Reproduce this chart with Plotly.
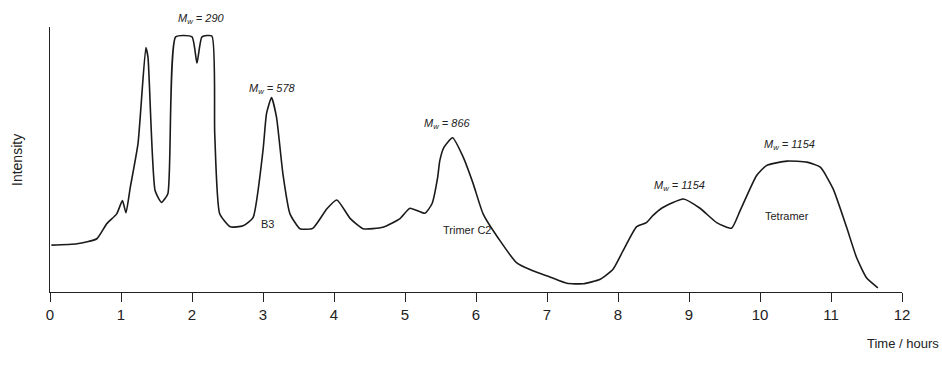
import plotly.graph_objects as go

# Chromatogram trace (time in hours, intensity in arbitrary units 0-100)
time_h = [0.02, 0.38, 0.66, 0.80, 0.94, 1.02, 1.07, 1.13, 1.24, 1.35, 1.38, 1.48, 1.57, 1.66,
          1.77, 2.00, 2.07, 2.14, 2.28, 2.32, 2.39, 2.54, 2.72, 2.86, 3.00, 3.05, 3.12, 3.19,
          3.28, 3.38, 3.52, 3.70, 3.90, 4.04, 4.23, 4.41, 4.69, 4.93, 5.07, 5.28, 5.38, 5.46,
          5.49, 5.55, 5.67, 5.82, 5.96, 6.10, 6.34, 6.57, 6.80, 7.04, 7.28, 7.51, 7.75, 7.93,
          8.07, 8.26, 8.40, 8.49, 8.62, 8.92, 9.15, 9.39, 9.60, 9.72, 9.95, 10.09, 10.38,
          10.66, 10.85, 11.03, 11.22, 11.36, 11.50, 11.66]
intensity = [17.7, 18.2, 20.1, 25.8, 29.5, 34.5, 29.9, 39.4, 56.1, 92.2, 88.6, 38.3, 33.8, 37.1,
             96.3, 96.3, 86.4, 96.3, 96.6, 59.8, 29.5, 24.6, 25.0, 28.1, 53.4, 67.4, 73.4, 66.0,
             44.7, 29.5, 23.9, 24.0, 31.4, 34.7, 27.7, 23.9, 24.4, 27.7, 31.6, 29.7, 33.3, 43.3,
             49.6, 54.7, 58.2, 50.9, 40.9, 29.5, 19.3, 11.1, 8.0, 5.7, 3.3, 3.1, 4.8, 8.6,
             15.5, 24.6, 26.2, 28.8, 31.7, 35.1, 31.7, 26.2, 24.1, 30.7, 43.9, 47.7, 49.4,
             49.0, 47.1, 38.9, 24.4, 13.0, 5.4, 1.6]

# Peak labels (y in axis-domain fraction so labels above the axis top stay visible)
mw_x = [2.14, 3.13, 5.6, 8.86, 10.42]
mw_y = [1.03, 0.765, 0.635, 0.40, 0.555]
mw_text = ["290", "578", "866", "1154", "1154"]

name_x = [3.07, 5.87, 10.38]
name_y = [25.5, 23.5, 28.5]
name_text = ["B3", "Trimer C2", "Tetramer"]

x_ticks = list(range(0, 13))

FONT = "Liberation Sans, Arial, sans-serif"
INK = "#222222"

W, H = 942, 372
ml, mr, mt, mb = 50, 40, 27, 80
pw, ph = W - ml - mr, H - mt - mb

fig = go.Figure()
fig.add_trace(go.Scatter(x=time_h, y=intensity, mode="lines",
                         line=dict(color="#1a1a1a", width=1.6, shape="spline", smoothing=0.5),
                         showlegend=False, hoverinfo="skip", cliponaxis=False))

annotations = []
for x, y, t in zip(mw_x, mw_y, mw_text):
    annotations.append(dict(x=x, y=y, xref="x", yref="paper", xanchor="center",
                            yanchor="middle", showarrow=False,
                            text=f"<i>M<sub>w</sub> = {t}</i>",
                            font=dict(family=FONT, size=11, color=INK)))
for x, y, t in zip(name_x, name_y, name_text):
    annotations.append(dict(x=x, y=y, xref="x", yref="y", xanchor="center",
                            yanchor="middle", showarrow=False, text=t,
                            font=dict(family=FONT, size=11, color=INK)))
annotations.append(dict(x=(17 - ml) / pw, y=(H - mb - 160) / ph, xref="paper", yref="paper",
                        xanchor="center", yanchor="middle",
                        showarrow=False, text="Intensity", textangle=-90,
                        font=dict(family=FONT, size=14, color=INK)))
annotations.append(dict(x=(941 - ml) / pw, y=(H - mb - 343) / ph, xref="paper", yref="paper",
                        xanchor="right", yanchor="middle", showarrow=False,
                        text="Time / hours", font=dict(family=FONT, size=13, color=INK)))

fig.update_layout(
    width=W, height=H,
    margin=dict(l=ml, r=mr, t=mt, b=mb),
    plot_bgcolor="white", paper_bgcolor="white",
    annotations=annotations,
    xaxis=dict(range=[0, 12], tickvals=x_ticks, ticks="outside", ticklen=9,
               tickcolor=INK, tickwidth=1, showline=True, linecolor=INK,
               linewidth=1.3, showgrid=False, zeroline=False,
               tickfont=dict(family=FONT, size=15, color=INK)),
    yaxis=dict(range=[0, 100], showline=True, linecolor=INK, linewidth=1.3,
               showticklabels=False, ticks="", showgrid=False, zeroline=False),
)

fig.write_html("out.html", config={"displayModeBar": False},
               post_script="document.body.style.margin='0';document.body.style.overflow='hidden';")
